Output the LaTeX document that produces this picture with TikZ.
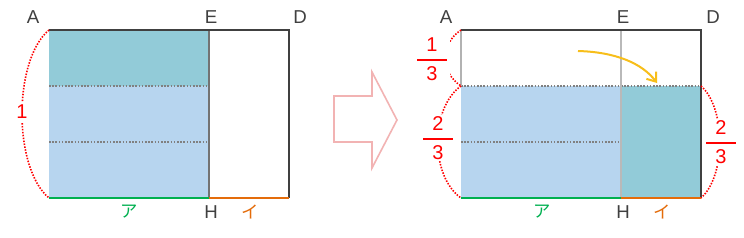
\documentclass[tikz,border=0pt]{standalone}
\usepackage{fontspec}
\setmainfont{Liberation Sans}
\newfontfamily\jpfont{Noto Sans CJK JP}
\usepackage{amsmath}
\usepackage{xcolor}
\usetikzlibrary{arrows.meta}
\definecolor{darkline}{HTML}{404040}
\definecolor{tealfill}{HTML}{92CBD8}
\definecolor{bluefill}{HTML}{B7D5EF}
\definecolor{greenline}{HTML}{00B050}
\definecolor{orangeline}{HTML}{E46C0A}
\definecolor{goldarrow}{HTML}{F7BE1A}
\definecolor{pinkarrow}{HTML}{F2B3B3}
\newcommand{\thirds}[1]{$\genfrac{}{}{1.4pt}{0}{\text{\hspace{7pt}#1\hspace{7pt}}}{\text{3}}$}

\begin{document}
\begin{tikzpicture}[x=0.75pt, y=-0.75pt, font=\fontsize{14}{16}\selectfont,
  lbl/.style={text=darkline, inner sep=0pt},
  kana/.style={inner sep=0pt, font=\fontsize{13}{15}\selectfont\jpfont},
  frac/.style={text=red, fill=white, inner sep=1pt, font=\fontsize{15}{17}\selectfont},
  edge/.style={darkline, line width=1.5pt},
  fold/.style={gray, line width=1.2pt, dash pattern=on 1.2pt off 1.2pt},
  arcdot/.style={red, line width=1.2pt, dash pattern=on 1.1pt off 1.1pt}]
\useasboundingbox (0,0) rectangle (744,237);
% left figure
\coordinate (la) at (49,30); \coordinate (le) at (209,30); \coordinate (ld) at (289,30);
\coordinate (lb) at (49,198); \coordinate (lh) at (209,198); \coordinate (lc) at (289,198);
\coordinate (l1) at (49,86); \coordinate (l1e) at (209,86);
\coordinate (l2) at (49,142); \coordinate (l2e) at (209,142);
\fill[bluefill] (la) rectangle (lh);
\fill[tealfill] (la) rectangle (l1e);
\draw[fold] (l1) -- (l1e); \draw[fold] (l2) -- (l2e);
\draw[gray!110, line width=1.5pt] (le) -- (lh);
\draw[edge] (la) -- (ld) -- (lc);
\draw[greenline, line width=1.5pt] (lb) -- (lh);
\draw[orangeline, line width=1.5pt] (lh) -- (lc);
\draw[arcdot] (la) .. controls (13,60) and (13,168) .. (lb);
\node[frac, inner sep=2pt] (one) at (22,112) {1};
\node[lbl] (lA) at (33,17) {A}; \node[lbl] (lE) at (211,17) {E};
\node[lbl] (lD) at (300,17) {D}; \node[lbl] (lH) at (211,212) {H};
\node[kana, text=greenline] (lka) at (129,212) {ア};
\node[kana, text=orangeline] (lki) at (250,212) {イ};
% hollow arrow
\draw[pinkarrow, line width=1.2pt, fill=white] (334,96) -- (372,96) -- (372,72) -- (397,120)
  -- (372,168) -- (372,142) -- (334,142) -- cycle;
% right figure
\coordinate (ra) at (461,30); \coordinate (re) at (621,30); \coordinate (rd) at (701,30);
\coordinate (rb) at (461,198); \coordinate (rh) at (621,198); \coordinate (rc) at (701,198);
\coordinate (r1) at (461,86); \coordinate (r1e) at (621,86); \coordinate (r1d) at (701,86);
\coordinate (r2) at (461,142); \coordinate (r2e) at (621,142);
\fill[bluefill] (r1) rectangle (rh);
\fill[tealfill] (r1e) rectangle (rc);
\draw[fold] (r1) -- (r1d); \draw[fold] (r2) -- (r2e);
\draw[gray!60, line width=0.8pt] (ra) -- (r1);
\draw[gray!55, line width=0.8pt] (re) -- (rh);
\draw[edge] (ra) -- (rd) -- (rc);
\draw[greenline, line width=1.5pt] (rb) -- (rh);
\draw[orangeline, line width=1.5pt] (rh) -- (rc);
\coordinate (from) at (578,51); \coordinate (to) at (657,83);
\draw[goldarrow, line width=1.5pt, -{Straight Barb[length=6pt, width=9pt]}]
  (from) .. controls (615,52) and (642,63) .. (to);
\draw[arcdot] (ra) .. controls (440,44) and (440,72) .. (r1);
\draw[arcdot] (r1) .. controls (430,108) and (430,176) .. (rb);
\draw[arcdot] (r1d) .. controls (726,108) and (726,176) .. (rc);
\node[frac] (third) at (432,59) {\thirds{1}};
\node[frac] (twolf) at (438,138) {\thirds{2}};
\node[frac] (twort) at (721,142) {\thirds{2}};
\node[lbl] (rA) at (446,17) {A}; \node[lbl] (rE) at (623,17) {E};
\node[lbl] (rD) at (713,17) {D}; \node[lbl] (rH) at (623,212) {H};
\node[kana, text=greenline] (rka) at (542,212) {ア};
\node[kana, text=orangeline] (rki) at (662,212) {イ};
\end{tikzpicture}
\end{document}
